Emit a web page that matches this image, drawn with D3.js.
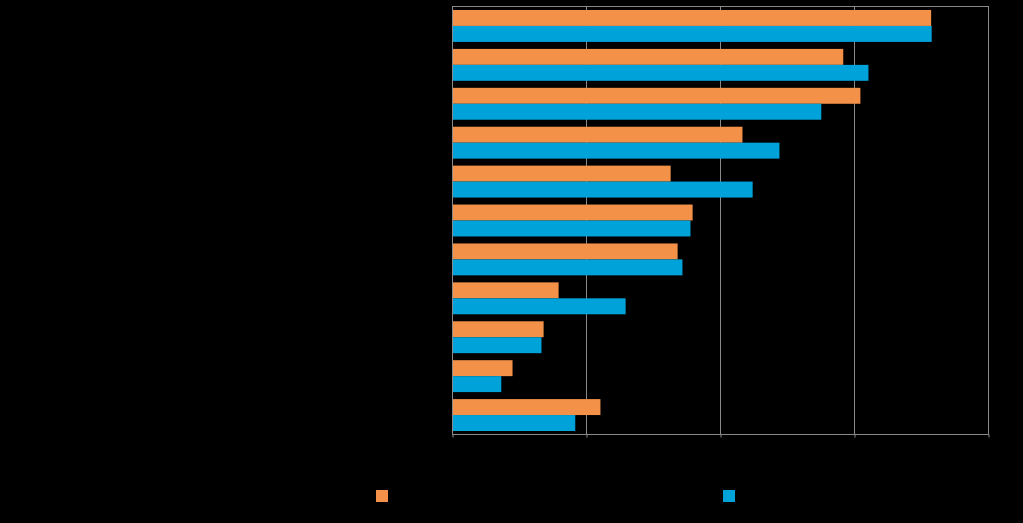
<!DOCTYPE html>
<html><head><meta charset="utf-8">
<script src="https://cdn.jsdelivr.net/npm/d3@7"></script>
<style>html,body{margin:0;padding:0;background:#000;}svg{display:block;}</style>
</head><body>
<svg id="c" width="1023" height="523"></svg>
<script>
const categories = ["1","2","3","4","5","6","7","8","9","10","11"];
const seriesA = [89.3, 72.9, 76.1, 54.1, 40.7, 44.8, 42.0, 19.8, 17.0, 11.2, 27.6];
const seriesB = [89.4, 77.6, 68.8, 61.0, 56.0, 44.4, 42.9, 32.3, 16.6, 9.1, 22.9];
const xTicks = [0, 25, 50, 75, 100];
const colors = ["#F39149", "#00A3D9"];

const svg = d3.select("#c");
const m = {l: 452.5, r: 988.5, t: 6.5, b: 434.5};
const x = d3.scaleLinear().domain([0, 100]).range([m.l, m.r]);
const y = d3.scaleBand().domain(categories).range([m.t, m.b]).paddingInner(0.18).paddingOuter(0.09);
const sub = d3.scaleBand().domain([0, 1]).range([0, y.bandwidth()]);

// gridlines
svg.append("g").selectAll("line").data(xTicks.slice(1)).join("line")
  .attr("x1", d => x(d)).attr("x2", d => x(d)).attr("y1", m.t).attr("y2", m.b)
  .attr("stroke", "#8a8a8a").attr("stroke-width", 1);

// bars
const data = categories.map((c, i) => ({c, v: [seriesA[i], seriesB[i]]}));
const g = svg.append("g").selectAll("g").data(data).join("g")
  .attr("transform", d => `translate(0,${y(d.c)})`);
g.selectAll("rect").data(d => d.v.map((v, k) => ({v, k}))).join("rect")
  .attr("x", x(0)).attr("y", d => sub(d.k))
  .attr("width", d => x(d.v) - x(0)).attr("height", sub.bandwidth())
  .attr("fill", d => colors[d.k]);

// border
svg.append("rect").attr("x", m.l).attr("y", m.t).attr("width", m.r - m.l).attr("height", m.b - m.t)
  .attr("fill", "none").attr("stroke", "#8a8a8a").attr("stroke-width", 1);

// axes (labels black as in reference)
const xa = svg.append("g").attr("transform", `translate(0,${m.b})`)
  .call(d3.axisBottom(x).tickValues(xTicks).tickSize(3));
xa.select(".domain").remove();
xa.selectAll("line").attr("stroke", "#8a8a8a");
xa.selectAll("text").attr("fill", "#000");
const ya = svg.append("g").attr("transform", `translate(${m.l},0)`)
  .call(d3.axisLeft(y).tickSize(0));
ya.select(".domain").remove();
ya.selectAll("text").attr("fill", "#000");

// legend
const legendX = [376, 723];
svg.append("g").selectAll("rect").data(colors).join("rect")
  .attr("x", (d, i) => legendX[i]).attr("y", 490).attr("width", 12).attr("height", 12)
  .attr("fill", d => d);
</script>
</body></html>
